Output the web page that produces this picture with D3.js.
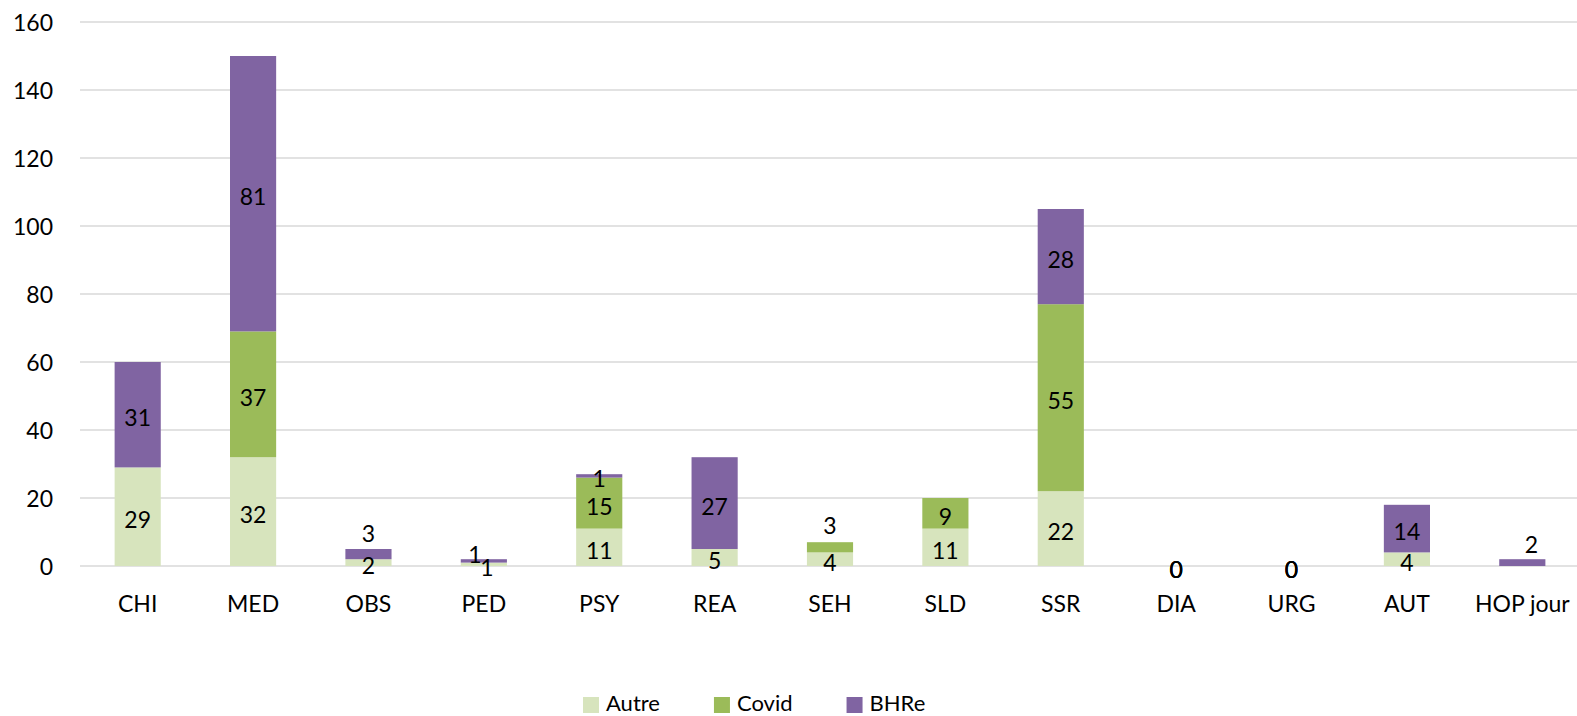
<!DOCTYPE html>
<html>
<head>
<meta charset="utf-8">
<script src="https://cdn.jsdelivr.net/npm/d3@7"></script>
<style>
  body { margin: 0; background: #fff; }
  svg text { font-family: Lato, "Open Sans", sans-serif; fill: #000; }
</style>
</head>
<body>
<div id="viz"></div>
<script>
// data
var categories = ["CHI", "MED", "OBS", "PED", "PSY", "REA", "SEH", "SLD", "SSR", "DIA", "URG", "AUT", "HOP jour"];
var autre = [29, 32, 2, 1, 11, 5, 4, 11, 22, 0, 0, 4, 0];
var covid = [0, 37, 0, 0, 15, 0, 3, 9, 55, 0, 0, 0, 0];
var bhre  = [31, 81, 3, 1, 1, 27, 0, 0, 28, 0, 0, 14, 2];
var seriesNames = ["Autre", "Covid", "BHRe"];
var yTicks = [0, 20, 40, 60, 80, 100, 120, 140, 160];

var colors = { "Autre": "#d7e4bd", "Covid": "#9bbb59", "BHRe": "#8064a2" };

// hand moved labels (like in the excel original)
var labelNudge = {
  "OBS|BHRe": [0, -24],
  "SEH|Covid": [0, -25],
  "HOP jour|BHRe": [9, -21],
  "PED|BHRe": [-9, -9],
  "PED|Autre": [3, 0]
};

var W = 1577, H = 716;
var margin = {top: 22, left: 80, right: -3, bottom: 150};

var svg = d3.select("#viz").append("svg")
  .attr("width", W).attr("height", H);

var x = d3.scaleBand()
  .domain(categories)
  .range([margin.left, W - margin.right])
  .paddingInner(0.6).paddingOuter(0.3);

var y = d3.scaleLinear()
  .domain([0, 160])
  .range([566, margin.top]);

// gridlines
svg.append("g")
  .selectAll("line")
  .data(yTicks)
  .join("line")
  .attr("x1", margin.left).attr("x2", W)
  .attr("y1", function(d){ return y(d); })
  .attr("y2", function(d){ return y(d); })
  .attr("stroke", "#d9d9d9")
  .attr("stroke-width", 1.5);

// y axis labels
var yAxis = svg.append("g")
  .attr("transform", "translate(" + (margin.left) + ",0)")
  .call(d3.axisLeft(y).tickValues(yTicks).tickSize(0).tickPadding(27));
yAxis.select(".domain").remove();
yAxis.selectAll("text")
  .style("font-size", "23px")
  .style("font-family", "Lato, sans-serif")
  .attr("dy", "0.36em");

// stack
var rows = categories.map(function(c, i){
  return { cat: c, Autre: autre[i], Covid: covid[i], BHRe: bhre[i] };
});
var stacked = d3.stack().keys(seriesNames)(rows);

var layers = svg.append("g").selectAll("g")
  .data(stacked)
  .join("g")
  .attr("fill", function(d){ return colors[d.key]; });

layers.selectAll("rect")
  .data(function(d){ return d; })
  .join("rect")
  .attr("x", function(d){ return x(d.data.cat); })
  .attr("width", x.bandwidth())
  .attr("y", function(d){ return y(d[1]); })
  .attr("height", function(d){ return y(d[0]) - y(d[1]); });

// data labels
var labels = [];
stacked.forEach(function(layer){
  layer.forEach(function(d){
    var v = d[1] - d[0];
    var total = d.data.Autre + d.data.Covid + d.data.BHRe;
    if (v > 0 || total === 0) {
      var n = labelNudge[d.data.cat + "|" + layer.key] || [0, 0];
      labels.push({
        v: v,
        cx: x(d.data.cat) + x.bandwidth() / 2 + n[0],
        cy: y((d[0] + d[1]) / 2) + 2.5 + n[1]
      });
    }
  });
});

svg.append("g").selectAll("text")
  .data(labels)
  .join("text")
  .attr("x", function(d){ return d.cx; })
  .attr("y", function(d){ return d.cy; })
  .attr("text-anchor", "middle")
  .attr("dominant-baseline", "central")
  .style("font-size", "23px")
  .text(function(d){ return d.v; });

// x axis labels
var xAxis = svg.append("g")
  .attr("transform", "translate(0," + y(0) + ")")
  .call(d3.axisBottom(x).tickSize(0).tickPadding(30));
xAxis.select(".domain").remove();
xAxis.selectAll("text")
  .style("font-size", "23px")
  .style("font-family", "Lato, sans-serif");

// legend
var legend = svg.append("g");
var lx = 583;
seriesNames.forEach(function(s){
  legend.append("rect")
    .attr("x", lx).attr("y", 697)
    .attr("width", 16).attr("height", 16)
    .attr("fill", colors[s]);
  var t = legend.append("text")
    .attr("x", lx + 23).attr("y", 702)
    .attr("dominant-baseline", "central")
    .style("font-size", "22px")
    .text(s);
  lx += 23 + t.node().getComputedTextLength() + 54;
});
</script>
</body>
</html>
